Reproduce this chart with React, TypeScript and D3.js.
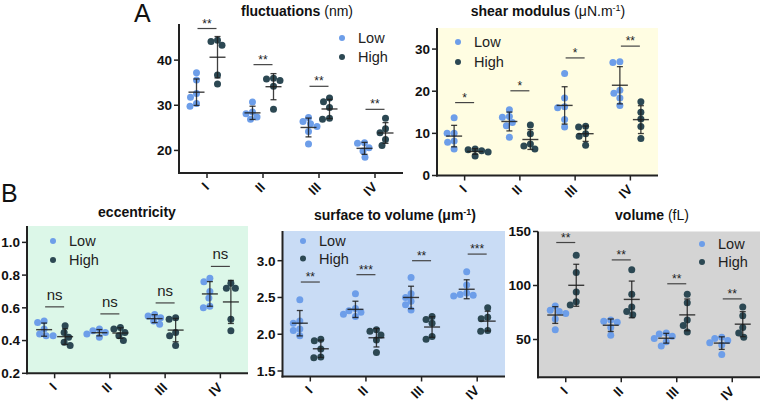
import React from "react";
import * as d3 from "d3";

const FONT = "'Liberation Sans', Arial, Helvetica, sans-serif";
const LOW_COLOR = "#6d9ee9";
const HIGH_COLOR = "#2c4853";

const categories = ["I", "II", "III", "IV"];
const seriesNames = ["Low", "High"];

// fluctuations (nm)
const flucLow = [
  [37.2, 35.6, 32.6, 31.8, 30.4, 29.8],
  [30.7, 28.5, 28.1, 27.4, 26.9],
  [27.3, 26.4, 25.9, 25.3, 24.2, 21.4],
  [21.7, 21.6, 20.6, 19.9, 18.5],
];
const flucHigh = [
  [44.4, 44.1, 43.3, 36.7, 34.7],
  [36.0, 35.8, 35.5, 34.2, 29.1],
  [31.6, 30.8, 29.5, 27.1, 26.9],
  [27.1, 24.8, 23.9, 22.4, 21.1],
];
const flucSig = [47.0, 39.0, 34.2, 29.1];
const flucSigLabels = ["**", "**", "**", "**"];
const flucTicks = [20, 30, 40];

// shear modulus
const shearLow = [
  [13.7, 10.0, 10.0, 8.2, 7.9, 6.3],
  [15.6, 14.0, 13.8, 12.6, 11.8, 9.1],
  [24.2, 18.4, 16.3, 16.1, 13.3, 11.5],
  [27.0, 26.8, 20.2, 19.5, 18.4, 16.6],
];
const shearHigh = [
  [6.3, 6.1, 5.9, 5.6, 4.6],
  [12.0, 9.9, 7.5, 7.0, 6.3],
  [11.7, 11.5, 9.9, 9.3, 7.2],
  [17.5, 15.0, 13.4, 11.6, 8.8],
];
const shearSig = [17.3, 20.1, 27.9, 30.7];
const shearSigLabels = ["*", "*", "*", "**"];
const shearTicks = [0, 10, 20, 30];

// eccentricity
const eccLow = [
  [0.52, 0.51, 0.47, 0.44, 0.43, 0.43],
  [0.47, 0.46, 0.45, 0.44, 0.42],
  [0.56, 0.55, 0.54, 0.52, 0.5],
  [0.78, 0.76, 0.7, 0.66, 0.61, 0.6],
];
const eccHigh = [
  [0.49, 0.45, 0.42, 0.39, 0.37],
  [0.48, 0.47, 0.45, 0.43, 0.4],
  [0.54, 0.53, 0.45, 0.43, 0.37],
  [0.75, 0.72, 0.72, 0.53, 0.46],
];
const eccSig = [0.606, 0.563, 0.63, 0.853];
const eccSigLabels = ["ns", "ns", "ns", "ns"];
const eccTicks = [0.2, 0.4, 0.6, 0.8, 1.0];

// surface to volume
const svLow = [
  [2.47, 2.18, 2.15, 2.07, 2.05, 1.98],
  [2.55, 2.35, 2.32, 2.3, 2.27, 2.24],
  [2.77, 2.55, 2.5, 2.45, 2.4, 2.33],
  [2.85, 2.67, 2.56, 2.54, 2.53, 2.52],
];
const svHigh = [
  [1.93, 1.91, 1.8, 1.69, 1.68],
  [2.06, 2.04, 1.99, 1.92, 1.75],
  [2.24, 2.2, 2.15, 1.97, 1.93],
  [2.36, 2.23, 2.21, 2.05, 2.04],
];
const svSig = [2.71, 2.81, 3.0, 3.09];
const svSigLabels = ["**", "***", "**", "***"];
const svTicks = [1.5, 2.0, 2.5, 3.0];

// volume (fL)
const volLow = [
  [81, 77, 76, 74, 69, 59],
  [68, 67, 66, 61, 54],
  [56, 55, 53, 51, 48, 44],
  [52, 51, 49, 47, 45, 36],
];
const volHigh = [
  [128, 112, 94, 85, 82],
  [114.6, 92, 80, 76, 73],
  [92, 84, 68, 63, 57],
  [80, 72, 61, 56, 52],
];
const volSig = [139.8, 123.7, 101.6, 87.6];
const volSigLabels = ["**", "**", "**", "**"];
const volTicks = [50, 100, 150];

const R = 3.5;

function swarm(values: number[], y: (v: number) => number, r: number) {
  const placed: { x: number; y: number }[] = [];
  const order = values.map((_, i) => i).sort((a, b) => values[b] - values[a]);
  const out: number[] = new Array(values.length).fill(0);
  for (const i of order) {
    const py = y(values[i]);
    let best = 0;
    for (let k = 0; k < 60; k++) {
      const off = (k % 2 === 0 ? 1 : -1) * Math.ceil(k / 2) * 0.5;
      if (placed.every((p) => Math.hypot(p.x - off, p.y - py) >= 2 * r - 0.4)) {
        best = off;
        break;
      }
    }
    placed.push({ x: best, y: py });
    out[i] = best;
  }
  return out;
}

type PanelProps = {
  left: number;
  right: number;
  top: number;
  bottom: number;
  domain: [number, number];
  ticks: number[];
  fmt: (v: number) => string;
  bg?: string;
  title: React.ReactNode;
  titleX: number;
  titleY: number;
  legendX: number;
  legendY: number;
  legendGap: number;
  low: number[][];
  high: number[][];
  sig: number[];
  sigLabels: string[];
};

function Group({ values, cx, y, color }: { values: number[]; cx: number; y: d3.ScaleLinear<number, number>; color: string }) {
  const m = d3.mean(values) as number;
  const sd = d3.deviation(values) as number;
  const offs = swarm(values, y, R);
  const lineColor = "#1e1e1e";
  return (
    <g>
      {values.map((v, i) => (
        <circle key={i} cx={cx + offs[i]} cy={y(v)} r={R} fill={color} />
      ))}
      <line x1={cx} x2={cx} y1={y(m + sd)} y2={y(m - sd)} stroke={lineColor} strokeWidth={1.3} opacity={0.85} />
      <line x1={cx - 3} x2={cx + 3} y1={y(m + sd)} y2={y(m + sd)} stroke={lineColor} strokeWidth={1.3} opacity={0.85} />
      <line x1={cx - 3} x2={cx + 3} y1={y(m - sd)} y2={y(m - sd)} stroke={lineColor} strokeWidth={1.3} opacity={0.85} />
      <line x1={cx - 8} x2={cx + 8} y1={y(m)} y2={y(m)} stroke={lineColor} strokeWidth={1.4} opacity={0.85} />
    </g>
  );
}

function Panel(p: PanelProps) {
  const x = d3.scaleBand().domain(categories).range([p.left, p.right]);
  const y = d3.scaleLinear().domain(p.domain).range([p.bottom, p.top]);
  const off = 10.5;
  return (
    <g fontFamily={FONT}>
      {p.bg && <rect x={p.left} y={p.top} width={p.right - p.left} height={p.bottom - p.top} fill={p.bg} />}
      <text x={p.titleX} y={p.titleY} textAnchor="middle" fontSize={14} fill="#111">
        {p.title}
      </text>
      {categories.map((c, i) => {
        const cx = (x(c) as number) + x.bandwidth() / 2;
        const sy = y(p.sig[i]);
        const isNs = p.sigLabels[i] === "ns";
        const lx = cx + 3;
        const ly = p.bottom + 15;
        return (
          <g key={c}>
            <line x1={cx - 9.5} x2={cx + 9.5} y1={sy} y2={sy} stroke="#444" strokeWidth={1.2} />
            <text x={cx} y={isNs ? sy - 7 : sy - 1} textAnchor="middle" fontSize={isNs ? 15 : 12} fill="#222">
              {p.sigLabels[i]}
            </text>
            <Group values={p.low[i]} cx={cx - off} y={y} color={LOW_COLOR} />
            <Group values={p.high[i]} cx={cx + off} y={y} color={HIGH_COLOR} />
            <line x1={cx} x2={cx} y1={p.bottom} y2={p.bottom + 5} stroke="#222" strokeWidth={1.5} />
            <text
              x={lx}
              y={ly}
              transform={`rotate(-45, ${lx}, ${ly})`}
              textAnchor="end"
              fontSize={13.5}
              fontWeight="bold"
              fill="#111"
            >
              {c}
            </text>
          </g>
        );
      })}
      {p.ticks.map((t) => (
        <g key={t}>
          <line x1={p.left - 5} x2={p.left} y1={y(t)} y2={y(t)} stroke="#222" strokeWidth={1.5} />
          <text x={p.left - 7} y={y(t)} dy="0.36em" textAnchor="end" fontSize={13.5} fontWeight="bold" fill="#111">
            {p.fmt(t)}
          </text>
        </g>
      ))}
      <line x1={p.left} x2={p.left} y1={p.top} y2={p.bottom + 1} stroke="#222" strokeWidth={2} />
      <line x1={p.left - 1} x2={p.right} y1={p.bottom} y2={p.bottom} stroke="#222" strokeWidth={2} />
      {seriesNames.map((s, i) => (
        <g key={s}>
          <circle cx={p.legendX} cy={p.legendY + i * p.legendGap} r={3} fill={i === 0 ? LOW_COLOR : HIGH_COLOR} />
          <text x={p.legendX + 16} y={p.legendY + i * p.legendGap} dy="0.36em" fontSize={14.5} fill="#222">
            {s}
          </text>
        </g>
      ))}
    </g>
  );
}

export default function App() {
  const f0 = d3.format("d");
  const f1 = d3.format(".1f");
  return (
    <svg width={762} height={405} style={{ position: "absolute", left: 0, top: 0, background: "#fff" }}>
      <text x={134} y={22} fontFamily={FONT} fontSize={25} fill="#111">A</text>
      <text x={1} y={202} fontFamily={FONT} fontSize={25} fill="#111">B</text>
      <Panel
        left={179} right={403} top={24} bottom={173} domain={[15, 48]} ticks={flucTicks} fmt={f0}
        title={<><tspan fontWeight="bold">fluctuations</tspan><tspan> (nm)</tspan></>}
        titleX={297} titleY={16} legendX={342} legendY={38} legendGap={19}
        low={flucLow} high={flucHigh} sig={flucSig} sigLabels={flucSigLabels}
      />
      <Panel
        left={437} right={658} top={28} bottom={175.5} domain={[0, 35]} ticks={shearTicks} fmt={f0} bg="#fffde2"
        title={<><tspan fontWeight="bold">shear modulus</tspan><tspan> (μN.m</tspan><tspan fontSize={9} dy={-5}>-1</tspan><tspan dy={5}>)</tspan></>}
        titleX={548} titleY={16} legendX={458} legendY={42} legendGap={20}
        low={shearLow} high={shearHigh} sig={shearSig} sigLabels={shearSigLabels}
      />
      <Panel
        left={27} right={248} top={226} bottom={373.3} domain={[0.2, 1.1]} ticks={eccTicks} fmt={f1} bg="#dcf7e8"
        title={<tspan fontWeight="bold">eccentricity</tspan>}
        titleX={137} titleY={217} legendX={53} legendY={241} legendGap={19}
        low={eccLow} high={eccHigh} sig={eccSig} sigLabels={eccSigLabels}
      />
      <Panel
        left={282.5} right={505} top={231} bottom={376.5} domain={[1.425, 3.404]} ticks={svTicks} fmt={f1} bg="#c9dcf5"
        title={<><tspan fontWeight="bold">surface to volume  (μm</tspan><tspan fontWeight="bold" fontSize={9} dy={-5}>-1</tspan><tspan fontWeight="bold" dy={5}>)</tspan></>}
        titleX={395} titleY={220} legendX={303} legendY={241} legendGap={17.5}
        low={svLow} high={svHigh} sig={svSig} sigLabels={svSigLabels}
      />
      <Panel
        left={538} right={760} top={231.5} bottom={377.3} domain={[15, 150]} ticks={volTicks} fmt={f0} bg="#d4d4d4"
        title={<><tspan fontWeight="bold">volume</tspan><tspan> (fL)</tspan></>}
        titleX={652} titleY={220} legendX={702} legendY={244} legendGap={18}
        low={volLow} high={volHigh} sig={volSig} sigLabels={volSigLabels}
      />
    </svg>
  );
}
